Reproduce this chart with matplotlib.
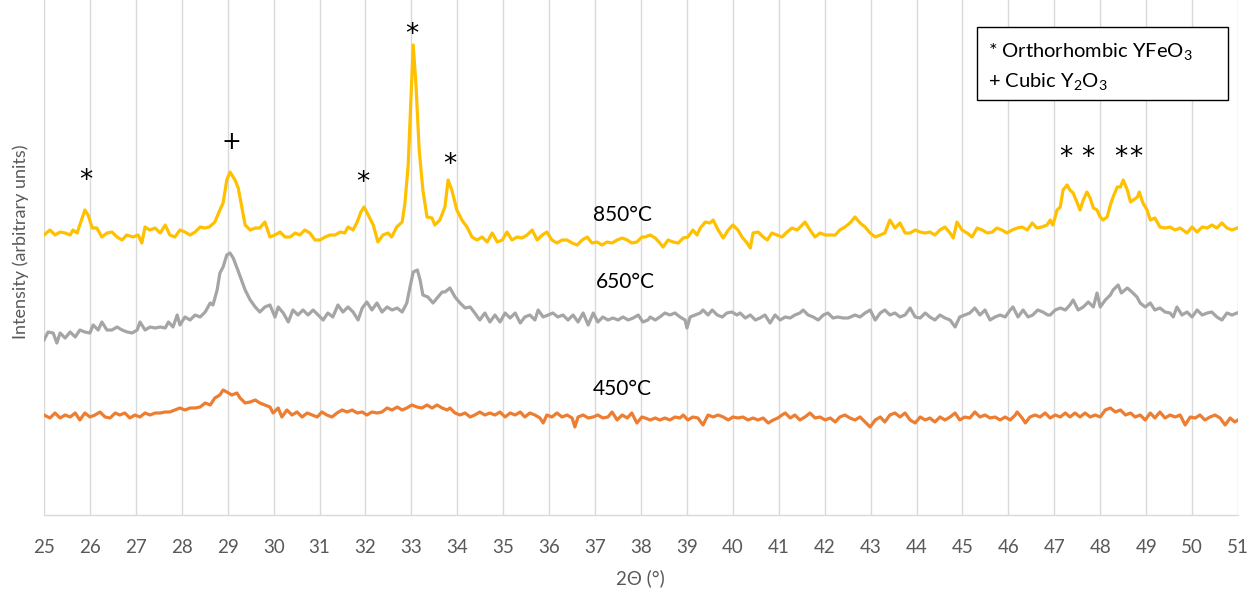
import matplotlib
matplotlib.use('Agg')
import matplotlib.pyplot as plt
from matplotlib.patches import Rectangle

plt.rcParams['font.family'] = ['Lato', 'DejaVu Sans']
plt.rcParams['mathtext.fontset'] = 'custom'
plt.rcParams['mathtext.rm'] = 'Lato'

# ---- 850 °C pattern ----
x850 = [25.0, 25.13, 25.24, 25.35, 25.46, 25.57, 25.63, 25.72, 25.78, 25.89, 25.96, 26.05, 26.15, 26.26, 26.37,
        26.48, 26.59, 26.7, 26.8, 26.94, 27.05, 27.13, 27.2, 27.3, 27.42, 27.53, 27.64, 27.74, 27.85, 27.96,
        28.07, 28.18, 28.29, 28.4, 28.5, 28.6, 28.72, 28.83, 28.9, 28.98, 29.05, 29.16, 29.23, 29.31, 29.38,
        29.49, 29.6, 29.7, 29.81, 29.92, 30.03, 30.14, 30.25, 30.36, 30.47, 30.57, 30.68, 30.79, 30.9, 31.01,
        31.12, 31.23, 31.34, 31.45, 31.55, 31.62, 31.73, 31.82, 31.9, 31.97, 32.06, 32.17, 32.27, 32.38, 32.49,
        32.57, 32.68, 32.8, 32.86, 32.93, 32.98, 33.04, 33.1, 33.17, 33.25, 33.34, 33.45, 33.51, 33.62, 33.73,
        33.8, 33.88, 33.99, 34.1, 34.21, 34.32, 34.43, 34.54, 34.65, 34.76, 34.87, 34.98, 35.08, 35.19, 35.3,
        35.41, 35.52, 35.63, 35.74, 35.85, 35.95, 36.06, 36.17, 36.28, 36.39, 36.5, 36.61, 36.72, 36.83, 36.93,
        37.04, 37.15, 37.26, 37.37, 37.48, 37.59, 37.7, 37.8, 37.91, 38.02, 38.09, 38.2, 38.31, 38.41, 38.48,
        38.59, 38.7, 38.81, 38.92, 39.02, 39.13, 39.22, 39.29, 39.4, 39.5, 39.57, 39.68, 39.79, 39.9, 40.0,
        40.11, 40.2, 40.31, 40.38, 40.44, 40.55, 40.66, 40.75, 40.85, 40.96, 41.07, 41.18, 41.29, 41.4, 41.51,
        41.57, 41.68, 41.79, 41.9, 42.01, 42.12, 42.23, 42.33, 42.44, 42.55, 42.66, 42.77, 42.88, 42.99, 43.1,
        43.21, 43.31, 43.42, 43.53, 43.64, 43.75, 43.86, 43.97, 44.08, 44.19, 44.29, 44.4, 44.51, 44.62, 44.73,
        44.8, 44.88, 44.99, 45.1, 45.21, 45.32, 45.43, 45.54, 45.65, 45.75, 45.86, 45.97, 46.08, 46.19, 46.3,
        46.41, 46.52, 46.62, 46.73, 46.84, 46.91, 46.97, 47.06, 47.13, 47.19, 47.28, 47.34, 47.41, 47.5, 47.56,
        47.63, 47.71, 47.78, 47.85, 47.93, 48.0, 48.06, 48.15, 48.22, 48.28, 48.37, 48.44, 48.5, 48.59, 48.66,
        48.72, 48.81, 48.85, 48.93, 49.02, 49.09, 49.19, 49.3, 49.41, 49.52, 49.63, 49.74, 49.89, 50.0, 50.11,
        50.22, 50.33, 50.43, 50.54, 50.65, 50.76, 50.87, 50.98]
y850 = [280, 285, 280, 283, 282, 280, 285, 282, 290, 305, 300, 287, 287, 278, 282,
        283, 278, 275, 280, 278, 280, 272, 288, 285, 287, 282, 290, 280, 278, 285,
        283, 280, 283, 288, 287, 288, 293, 305, 312, 335, 343, 335, 327, 307, 290,
        285, 287, 287, 293, 278, 280, 283, 278, 278, 282, 280, 285, 282, 275, 275,
        278, 280, 280, 283, 282, 288, 285, 293, 303, 308, 300, 290, 273, 280, 282,
        278, 288, 293, 312, 350, 405, 470, 430, 365, 325, 298, 297, 290, 295, 308,
        335, 325, 305, 295, 288, 278, 275, 278, 273, 282, 273, 275, 283, 275, 278,
        277, 280, 285, 275, 280, 283, 275, 272, 275, 275, 272, 270, 275, 278, 272,
        273, 270, 273, 272, 275, 277, 275, 272, 273, 278, 278, 280, 277, 272, 268,
        275, 273, 272, 277, 278, 285, 280, 287, 293, 292, 295, 285, 277, 285, 290,
        285, 278, 272, 267, 282, 283, 278, 275, 282, 280, 278, 283, 287, 285, 290,
        293, 285, 278, 282, 280, 280, 280, 285, 288, 292, 298, 292, 288, 282, 278,
        280, 282, 295, 287, 292, 282, 282, 285, 283, 282, 283, 280, 285, 288, 282,
        277, 293, 285, 282, 278, 287, 285, 282, 283, 287, 285, 282, 285, 287, 288,
        285, 292, 287, 288, 290, 295, 290, 305, 308, 325, 330, 325, 322, 312, 305,
        315, 323, 317, 307, 305, 298, 295, 298, 310, 318, 328, 328, 335, 325, 313,
        315, 318, 323, 312, 305, 295, 297, 288, 287, 288, 285, 287, 282, 288, 283,
        288, 287, 290, 287, 292, 287, 285, 287]

# ---- 650 °C pattern ----
x650 = [25.0, 25.09, 25.2, 25.28, 25.35, 25.46, 25.57, 25.68, 25.78, 25.89, 26.0, 26.07, 26.18, 26.26, 26.37,
        26.48, 26.59, 26.7, 26.81, 26.92, 27.03, 27.09, 27.2, 27.31, 27.42, 27.53, 27.64, 27.71, 27.81, 27.9,
        27.96, 28.07, 28.18, 28.29, 28.4, 28.51, 28.62, 28.68, 28.77, 28.83, 28.9, 28.98, 29.05, 29.12, 29.22,
        29.3, 29.38, 29.49, 29.6, 29.7, 29.81, 29.92, 30.03, 30.1, 30.21, 30.32, 30.42, 30.53, 30.64, 30.75,
        30.86, 30.97, 31.08, 31.18, 31.29, 31.4, 31.51, 31.62, 31.73, 31.84, 31.93, 32.03, 32.14, 32.25, 32.36,
        32.47, 32.58, 32.69, 32.8, 32.9, 32.97, 33.04, 33.13, 33.19, 33.25, 33.36, 33.47, 33.58, 33.67, 33.73,
        33.84, 33.95, 34.06, 34.17, 34.28, 34.38, 34.49, 34.6, 34.71, 34.82, 34.93, 35.04, 35.15, 35.26, 35.37,
        35.47, 35.58, 35.69, 35.76, 35.87, 35.98, 36.08, 36.19, 36.3, 36.41, 36.52, 36.63, 36.74, 36.85, 36.96,
        37.06, 37.17, 37.28, 37.39, 37.5, 37.61, 37.72, 37.83, 37.94, 38.04, 38.15, 38.2, 38.31, 38.41, 38.52,
        38.63, 38.74, 38.85, 38.96, 39.0, 39.07, 39.18, 39.29, 39.35, 39.46, 39.55, 39.66, 39.77, 39.87, 39.98,
        40.09, 40.16, 40.27, 40.38, 40.49, 40.59, 40.7, 40.81, 40.92, 41.03, 41.14, 41.25, 41.35, 41.46, 41.53,
        41.64, 41.75, 41.86, 41.97, 42.07, 42.18, 42.29, 42.4, 42.51, 42.66, 42.77, 42.88, 42.99, 43.1, 43.21,
        43.31, 43.42, 43.53, 43.64, 43.75, 43.86, 43.97, 44.08, 44.19, 44.29, 44.4, 44.51, 44.62, 44.73, 44.84,
        44.94, 45.05, 45.16, 45.27, 45.38, 45.49, 45.6, 45.71, 45.82, 45.93, 46.04, 46.1, 46.21, 46.32, 46.43,
        46.53, 46.64, 46.75, 46.86, 46.91, 47.02, 47.13, 47.24, 47.34, 47.41, 47.52, 47.63, 47.74, 47.85, 47.93,
        48.0, 48.11, 48.22, 48.28, 48.39, 48.46, 48.59, 48.69, 48.8, 48.87, 48.98, 49.09, 49.19, 49.3, 49.41,
        49.52, 49.59, 49.67, 49.78, 49.89, 50.0, 50.11, 50.22, 50.33, 50.43, 50.54, 50.65, 50.76, 50.87, 50.98]
y650 = [175, 183, 182, 172, 182, 177, 183, 178, 185, 183, 182, 190, 185, 193, 185,
        185, 188, 185, 183, 182, 185, 193, 185, 188, 187, 188, 187, 193, 188, 200,
        190, 198, 195, 200, 198, 203, 212, 210, 225, 242, 248, 260, 262, 257, 245,
        235, 225, 215, 208, 203, 208, 210, 198, 208, 202, 193, 205, 200, 205, 200,
        205, 200, 195, 202, 198, 210, 203, 208, 203, 195, 207, 213, 205, 212, 203,
        208, 205, 207, 203, 212, 228, 243, 245, 235, 220, 218, 212, 218, 223, 223,
        227, 218, 212, 207, 208, 202, 195, 202, 193, 200, 193, 202, 197, 202, 192,
        198, 200, 195, 205, 198, 200, 202, 198, 200, 195, 200, 193, 202, 190, 202,
        193, 198, 195, 197, 195, 198, 195, 197, 200, 193, 195, 198, 195, 198, 202,
        200, 202, 198, 195, 187, 198, 200, 202, 205, 200, 205, 200, 198, 202, 203,
        200, 202, 197, 200, 195, 197, 200, 192, 200, 195, 198, 197, 200, 202, 205,
        200, 198, 195, 200, 202, 197, 198, 197, 197, 200, 198, 202, 205, 195, 202,
        205, 200, 202, 198, 200, 207, 198, 197, 202, 198, 195, 200, 197, 195, 188,
        198, 200, 202, 207, 200, 205, 195, 198, 200, 198, 205, 208, 198, 205, 198,
        200, 205, 203, 200, 200, 205, 207, 205, 210, 215, 205, 208, 213, 208, 222,
        208, 215, 220, 225, 230, 222, 227, 223, 218, 212, 208, 212, 205, 207, 203,
        202, 198, 208, 200, 203, 198, 205, 200, 202, 203, 198, 195, 202, 200, 202]

# ---- 450 °C pattern ----
x450 = [25.0, 25.13, 25.24, 25.35, 25.46, 25.57, 25.68, 25.78, 25.89, 26.0, 26.11, 26.22, 26.33, 26.44, 26.55,
        26.65, 26.76, 26.87, 26.98, 27.09, 27.2, 27.31, 27.42, 27.53, 27.64, 27.74, 27.85, 27.96, 28.07, 28.18,
        28.29, 28.4, 28.51, 28.62, 28.72, 28.83, 28.9, 28.98, 29.09, 29.2, 29.27, 29.38, 29.49, 29.6, 29.7,
        29.81, 29.92, 29.99, 30.1, 30.18, 30.29, 30.4, 30.51, 30.62, 30.73, 30.84, 30.95, 31.05, 31.16, 31.27,
        31.38, 31.49, 31.6, 31.71, 31.82, 31.93, 32.03, 32.14, 32.25, 32.36, 32.47, 32.58, 32.69, 32.8, 32.9,
        33.01, 33.12, 33.23, 33.34, 33.45, 33.56, 33.67, 33.78, 33.84, 33.95, 34.06, 34.17, 34.28, 34.38, 34.49,
        34.6, 34.71, 34.82, 34.93, 35.04, 35.15, 35.26, 35.37, 35.47, 35.58, 35.69, 35.8, 35.87, 35.95, 36.06,
        36.17, 36.28, 36.39, 36.5, 36.56, 36.63, 36.74, 36.85, 36.96, 37.06, 37.17, 37.28, 37.37, 37.48, 37.59,
        37.7, 37.8, 37.91, 38.02, 38.09, 38.2, 38.31, 38.41, 38.52, 38.63, 38.74, 38.85, 38.92, 39.02, 39.13,
        39.24, 39.35, 39.46, 39.57, 39.68, 39.79, 39.9, 40.0, 40.11, 40.22, 40.33, 40.44, 40.55, 40.66, 40.77,
        40.88, 40.98, 41.07, 41.14, 41.25, 41.35, 41.46, 41.57, 41.68, 41.79, 41.9, 42.01, 42.12, 42.23, 42.33,
        42.44, 42.55, 42.66, 42.77, 42.88, 42.99, 43.1, 43.21, 43.31, 43.42, 43.53, 43.64, 43.75, 43.86, 43.97,
        44.08, 44.19, 44.29, 44.4, 44.51, 44.62, 44.73, 44.84, 44.94, 45.05, 45.16, 45.27, 45.38, 45.49, 45.6,
        45.71, 45.82, 45.93, 46.04, 46.15, 46.19, 46.3, 46.37, 46.47, 46.58, 46.69, 46.8, 46.91, 47.02, 47.13,
        47.24, 47.34, 47.45, 47.56, 47.67, 47.78, 47.89, 48.0, 48.11, 48.22, 48.33, 48.44, 48.55, 48.66, 48.76,
        48.87, 48.98, 49.09, 49.19, 49.3, 49.41, 49.52, 49.63, 49.74, 49.85, 49.96, 50.07, 50.17, 50.28, 50.39,
        50.5, 50.61, 50.72, 50.83, 50.93, 51.0]
y450 = [100, 97, 102, 97, 100, 98, 102, 95, 102, 98, 100, 103, 98, 97, 102,
        100, 102, 97, 100, 98, 102, 100, 102, 102, 103, 103, 105, 107, 105, 107,
        107, 108, 112, 110, 117, 120, 125, 123, 120, 122, 117, 112, 113, 115, 112,
        110, 108, 102, 107, 98, 105, 100, 103, 98, 102, 100, 98, 103, 100, 98,
        102, 105, 103, 105, 102, 103, 100, 103, 102, 103, 107, 105, 108, 105, 107,
        110, 108, 107, 110, 107, 110, 107, 105, 107, 102, 100, 102, 98, 100, 103,
        100, 102, 100, 103, 98, 102, 100, 103, 98, 102, 100, 97, 92, 100, 98,
        102, 98, 100, 97, 88, 98, 100, 97, 98, 100, 97, 98, 103, 95, 100,
        97, 102, 92, 98, 97, 95, 97, 95, 97, 95, 98, 97, 100, 95, 98,
        97, 90, 100, 98, 100, 98, 95, 98, 97, 98, 95, 97, 95, 97, 92,
        95, 97, 100, 102, 97, 100, 95, 98, 102, 97, 98, 95, 97, 93, 98,
        100, 97, 95, 98, 93, 88, 95, 98, 93, 100, 102, 98, 102, 95, 92,
        98, 95, 97, 93, 98, 95, 98, 102, 95, 98, 97, 103, 98, 100, 97,
        98, 95, 98, 95, 100, 103, 97, 92, 98, 100, 98, 102, 97, 100, 98,
        102, 98, 102, 98, 102, 98, 100, 98, 105, 107, 103, 105, 100, 102, 98,
        100, 95, 102, 97, 103, 97, 100, 98, 100, 90, 98, 97, 100, 95, 98,
        100, 97, 90, 97, 93, 95]

x_ticks = list(range(25, 52))
series_labels = ['850°C', '650°C', '450°C']
label_pos = [(37.59, 300), (37.65, 233), (37.59, 126)]
peak_marks = [('*', 25.91, 334), ('+', 29.07, 373), ('*', 31.95, 332), ('*', 33.02, 480),
              ('*', 33.84, 350), ('*', 47.26, 357), ('*', 47.74, 357), ('*', 48.44, 357), ('*', 48.77, 357)]
legend_lines = ['* Orthorhombic YFeO$\\mathregular{_3}$', '+ Cubic Y$\\mathregular{_2}$O$\\mathregular{_3}$']

W, H = 1259, 591
fig = plt.figure(figsize=(W / 100, H / 100), dpi=100)
ax = fig.add_axes([44 / W, 76 / H, 1194 / W, 515 / H])

ax.plot(x450, y450, color='#ED7D31', lw=2.3, solid_joinstyle='round', zorder=3)
ax.plot(x650, y650, color='#A5A5A5', lw=2.3, solid_joinstyle='round', zorder=3)
ax.plot(x850, y850, color='#FFC000', lw=2.3, solid_joinstyle='round', zorder=3)

ax.set_xlim(25, 51)
ax.set_ylim(0, 515)
ax.set_xticks(x_ticks)
ax.set_yticks([])
ax.grid(axis='x', color='#D9D9D9', lw=1.0, zorder=0)
for s in ['left', 'right', 'top']:
    ax.spines[s].set_visible(False)
ax.spines['bottom'].set_color('#D9D9D9')
ax.spines['bottom'].set_linewidth(1.0)
ax.tick_params(axis='x', length=0, labelsize=13.5, colors='#595959', pad=17.5)

for lab, (lx, ly) in zip(series_labels, label_pos):
    ax.text(lx, ly, lab, fontsize=15, color='black', ha='center', va='center', zorder=4)

for m, mx, my in peak_marks:
    ax.text(mx, my, m, family='DejaVu Sans', fontsize=19 if m == '*' else 17, color='black',
            ha='center', va='center', zorder=4)

fig.text(640 / W, 1 - 578 / H, '2Θ (°)', fontsize=13.5, color='#595959', ha='center', va='center')
fig.text(21 / W, 1 - 242 / H, 'Intensity (arbitrary units)', fontsize=13, color='#595959',
         rotation=90, ha='center', va='center')

fig.add_artist(Rectangle((977 / W, 1 - 100 / H), 251 / W, 73 / H, transform=fig.transFigure,
                         facecolor='white', edgecolor='black', lw=1.0, zorder=5))
fig.text(988 / W, 1 - 52 / H, legend_lines[0], fontsize=14.5, color='black', ha='left', va='center', zorder=6)
fig.text(988 / W, 1 - 82 / H, legend_lines[1], fontsize=14.5, color='black', ha='left', va='center', zorder=6)

fig.savefig('out.png', dpi=100)
